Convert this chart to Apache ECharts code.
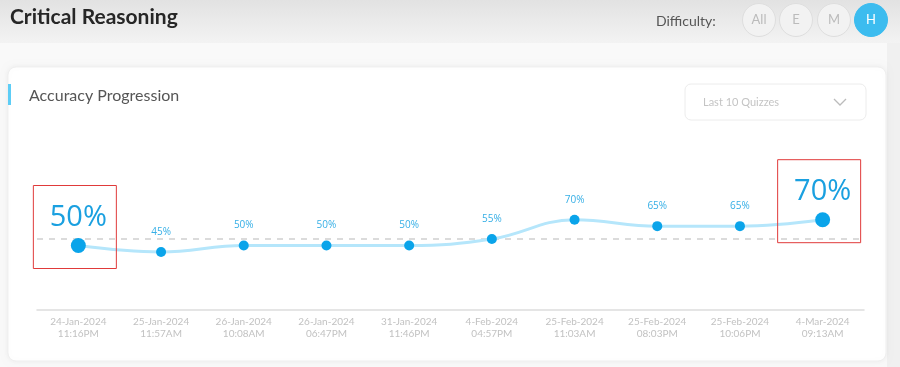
<!DOCTYPE html>
<html>
<head>
<meta charset="utf-8">
<script src="https://cdn.jsdelivr.net/npm/echarts@6/dist/echarts.min.js"></script>
<style>
html,body{margin:0;padding:0;background:#f8f8f8;}
#chart{width:900px;height:367px;}
</style>
</head>
<body>
<div id="chart"></div>
<script>
const categories = [
  '24-Jan-2024\n11:16PM','25-Jan-2024\n11:57AM','26-Jan-2024\n10:08AM','26-Jan-2024\n06:47PM',
  '31-Jan-2024\n11:46PM','4-Feb-2024\n04:57PM','25-Feb-2024\n11:03AM','25-Feb-2024\n08:03PM',
  '25-Feb-2024\n10:06PM','4-Mar-2024\n09:13AM'
];
const accuracy = [50, 45, 50, 50, 50, 55, 70, 65, 65, 70];
const highlighted = [0, 9];
const benchmark = 55;
const difficultyLevels = ['All', 'E', 'M', 'H'];
const activeDifficulty = 'H';

const chart = echarts.init(document.getElementById('chart'));

const seriesData = accuracy.map((v, i) => {
  if (highlighted.includes(i)) {
    return {
      value: v,
      symbolSize: 15,
      label: { fontSize: 29, color: '#1aa0e0', distance: 6, fontFamily: 'Open Sans' }
    };
  }
  return v;
});

const header = [
  { type: 'rect', shape: { x: 0, y: 0, width: 900, height: 43 },
    style: { fill: new echarts.graphic.LinearGradient(0, 0, 0, 1, [
      { offset: 0, color: '#e2e2e2' }, { offset: 1, color: '#f3f3f3' }]) }, z: 0 },
  { type: 'rect', shape: { x: 887, y: 43, width: 13, height: 324 }, style: { fill: '#f0f0f0' }, z: 0 },
  { type: 'text', x: 10, y: 17, style: { text: 'Critical Reasoning', font: 'bold 21px Lato', fill: '#262626', verticalAlign: 'middle' }, z: 5 },
  { type: 'text', x: 656, y: 21, style: { text: 'Difficulty:', font: '14px Lato', fill: '#555', verticalAlign: 'middle' }, z: 5 }
];
const circleX = [759, 796, 834, 871];
difficultyLevels.forEach((d, i) => {
  const active = d === activeDifficulty;
  header.push({ type: 'circle', shape: { cx: circleX[i], cy: 20, r: 16.5 },
    style: { fill: active ? '#3cbcef' : '#f2f2f2', stroke: active ? '#3cbcef' : '#dedede', lineWidth: 1 }, z: 5 });
  header.push({ type: 'text', x: circleX[i], y: 20, style: { text: d, font: '13px Lato', fill: active ? '#fff' : '#bbb', align: 'center', verticalAlign: 'middle' }, z: 6 });
});
const card = [
  { type: 'rect', shape: { x: 8, y: 67, width: 878, height: 294, r: 8 },
    style: { fill: '#fff', stroke: '#efefef', lineWidth: 1, shadowBlur: 6, shadowColor: 'rgba(0,0,0,0.05)' }, z: 0 },
  { type: 'rect', shape: { x: 8, y: 84, width: 3, height: 21 }, style: { fill: '#5dcdf6' }, z: 5 },
  { type: 'text', x: 29, y: 96, style: { text: 'Accuracy Progression', font: '16px Lato', fill: '#555', verticalAlign: 'middle' }, z: 5 },
  { type: 'rect', shape: { x: 685, y: 84, width: 181, height: 36, r: 6 }, style: { fill: '#fff', stroke: '#ececec', lineWidth: 1 }, z: 5 },
  { type: 'text', x: 703, y: 102, style: { text: 'Last 10 Quizzes', font: '11px Lato', fill: '#c4c4c4', verticalAlign: 'middle' }, z: 6 },
  { type: 'polyline', shape: { points: [[834, 99], [840, 105], [846, 99]] }, style: { stroke: '#bbb', lineWidth: 1.3, fill: null }, z: 6 }
];

const option = {
  animation: false,
  backgroundColor: '#f9f9f9',
  grid: { left: 37, right: 36, top: 181, bottom: 57 },
  xAxis: {
    type: 'category',
    z: 8,
    data: categories,
    boundaryGap: true,
    axisLine: { lineStyle: { color: '#dddddd', width: 1.5 } },
    axisTick: { show: false },
    axisLabel: { color: '#c2c2c2', fontSize: 10, lineHeight: 12, margin: 6, fontFamily: 'Lato', interval: 0 }
  },
  yAxis: { type: 'value', min: 0, max: 100, show: false, splitLine: { show: false } },
  series: [{
    type: 'line',
    data: seriesData,
    smooth: 0.4,
    symbol: 'circle',
    symbolSize: 10,
    z: 10,
    itemStyle: { color: '#0aa4ea' },
    lineStyle: { color: '#b5e6fb', width: 3 },
    label: { show: true, position: 'top', distance: 10, formatter: '{c}%', color: '#36afe6', fontSize: 10, fontFamily: 'Open Sans' },
    markLine: {
      silent: true, symbol: 'none',
      lineStyle: { color: '#d0d0d0', type: [6, 6], width: 1.5 },
      label: { show: false },
      data: [{ yAxis: benchmark }]
    }
  }],
  graphic: header.concat(card)
};
chart.setOption(option);

// red annotation boxes around highlighted points
const boxes = highlighted.map(i => {
  const p = chart.convertToPixel({ seriesIndex: 0 }, [i, accuracy[i]]);
  return { type: 'rect', shape: { x: p[0] - 45, y: p[1] - 60, width: 83, height: 83 },
    style: { fill: null, stroke: '#e03a3a', lineWidth: 1 }, z: 20 };
});
chart.setOption({ graphic: header.concat(card).concat(boxes) });
</script>
</body>
</html>
